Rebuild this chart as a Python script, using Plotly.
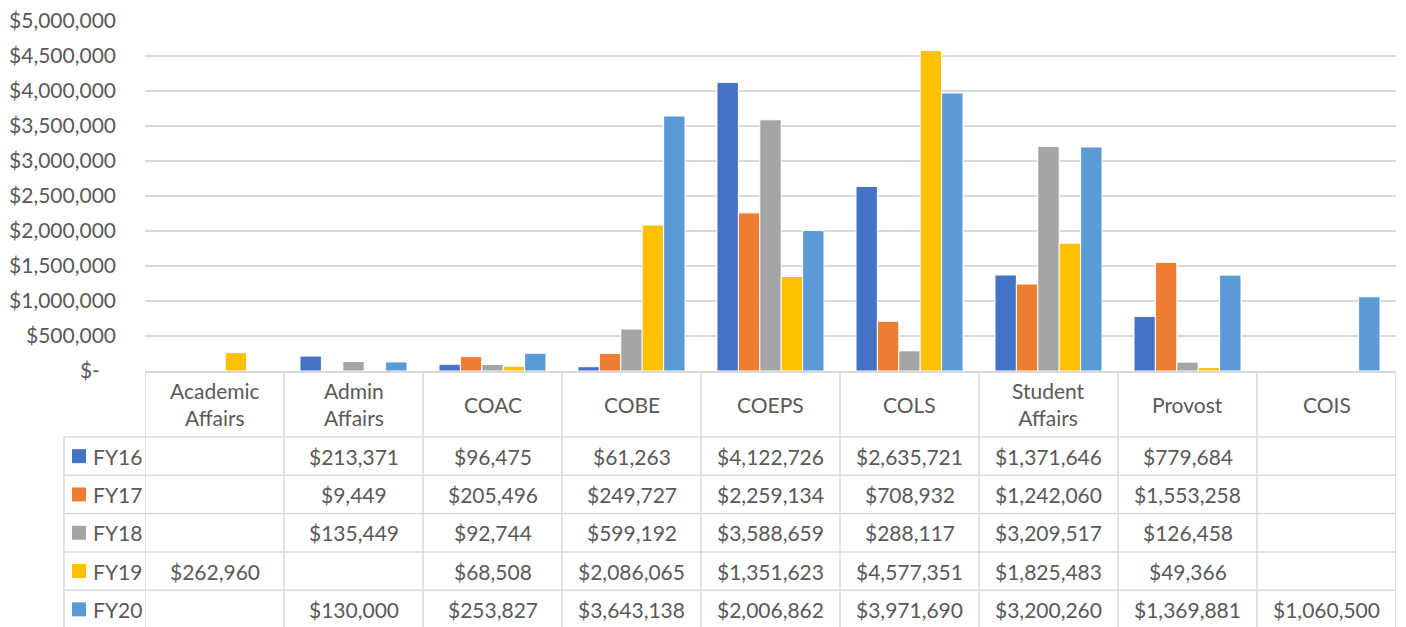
import plotly.graph_objects as go

categories = ["Academic Affairs", "Admin Affairs", "COAC", "COBE", "COEPS", "COLS",
              "Student Affairs", "Provost", "COIS"]
series_names = ["FY16", "FY17", "FY18", "FY19", "FY20"]
fy16 = [None, 213371, 96475, 61263, 4122726, 2635721, 1371646, 779684, None]
fy17 = [None, 9449, 205496, 249727, 2259134, 708932, 1242060, 1553258, None]
fy18 = [None, 135449, 92744, 599192, 3588659, 288117, 3209517, 126458, None]
fy19 = [262960, None, 68508, 2086065, 1351623, 4577351, 1825483, 49366, None]
fy20 = [None, 130000, 253827, 3643138, 2006862, 3971690, 3200260, 1369881, 1060500]
colors = ["#4472C4", "#ED7D31", "#A5A5A5", "#FFC000", "#5B9BD5"]
tick_values = [0, 500000, 1000000, 1500000, 2000000, 2500000, 3000000, 3500000,
               4000000, 4500000, 5000000]

series = [fy16, fy17, fy18, fy19, fy20]

W, H = 1406, 627
FONT = "Lato"
FS = 21
TXT = "#595959"
GRID = "#D9D9D9"

def px(x):
    return x / W

def py(y):
    return 1 - y / H

plot_left, plot_right, plot_top, plot_bottom = 145, 1396, 21, 371
header_bottom = 437
row_h = 38.3
legend_left = 64

fig = go.Figure()
for name, vals, c in zip(series_names, series, colors):
    fig.add_trace(go.Bar(x=categories, y=vals, name=name, marker_color=c,
                         marker_line_color="white", marker_line_width=1,
                         showlegend=False, hoverinfo="x+y"))

def fmt_tick(v):
    return "$-\u00a0\u00a0\u00a0" if v == 0 else f"${v:,.0f}"

fig.update_layout(
    width=W, height=H, margin=dict(l=0, r=0, t=0, b=0, autoexpand=False),
    paper_bgcolor="white", plot_bgcolor="white",
    barmode="group", bargap=0.23, bargroupgap=0,
    font=dict(family=FONT, size=FS, color=TXT),
    xaxis=dict(domain=[px(plot_left), px(plot_right)], range=[-0.5, len(categories) - 0.5],
               showticklabels=False, showgrid=False, zeroline=False, automargin=False,
               showline=True, linecolor=GRID, linewidth=1.5, ticks=""),
    yaxis=dict(domain=[py(plot_bottom), py(plot_top)], range=[0, 5000000],
               tickvals=tick_values, ticktext=[fmt_tick(v) for v in tick_values],
               showgrid=True, gridcolor=GRID, gridwidth=1.5, zeroline=False, automargin=False,
               showline=False, ticks="", ticklabelstandoff=28,
               tickfont=dict(family=FONT, size=FS, color=TXT)),
)

shapes = []
annotations = []
n_rows = len(series_names)
table_bottom = header_bottom + row_h * n_rows

# vertical column lines (aligned to category axis)
for i in range(len(categories) + 1):
    shapes.append(dict(type="line", xref="x", yref="paper", x0=i - 0.5, x1=i - 0.5,
                       y0=py(plot_bottom), y1=py(table_bottom + 5),
                       line=dict(color=GRID, width=1.5)))
# legend column left line
shapes.append(dict(type="line", xref="paper", yref="paper", x0=px(legend_left), x1=px(legend_left),
                   y0=py(header_bottom), y1=py(table_bottom + 5), line=dict(color=GRID, width=1.5)))
# horizontal row lines
for r in range(n_rows + 1):
    y = header_bottom + row_h * r
    shapes.append(dict(type="line", xref="paper", yref="paper", x0=px(legend_left), x1=px(plot_right),
                       y0=py(y), y1=py(y), line=dict(color=GRID, width=1.5)))

# header labels
for i, cat in enumerate(categories):
    annotations.append(dict(xref="x", yref="paper", x=i, y=py((plot_bottom + header_bottom) / 2),
                            text=cat.replace(" ", "<br>"), showarrow=False,
                            xanchor="center", yanchor="middle",
                            font=dict(family=FONT, size=FS, color=TXT)))

# rows
for r, (name, vals, c) in enumerate(zip(series_names, series, colors)):
    yc = header_bottom + row_h * (r + 0.5)
    shapes.append(dict(type="rect", xref="paper", yref="paper", x0=px(72), x1=px(86),
                       y0=py(yc + 7), y1=py(yc - 7), fillcolor=c, line=dict(width=0)))
    annotations.append(dict(xref="paper", yref="paper", x=px(91), y=py(yc), text=name,
                            showarrow=False, xanchor="left", yanchor="middle",
                            font=dict(family=FONT, size=FS, color=TXT)))
    for i, v in enumerate(vals):
        if v is None:
            continue
        annotations.append(dict(xref="x", yref="paper", x=i, y=py(yc), text=f"${v:,.0f}",
                                showarrow=False, xanchor="center", yanchor="middle",
                                font=dict(family=FONT, size=FS, color=TXT)))

fig.update_layout(shapes=shapes, annotations=annotations)
fig.write_html("out.html", config={"displayModeBar": False},
               post_script="document.body.style.margin='0';document.body.style.padding='0';"
                           "document.body.style.overflow='hidden';")
